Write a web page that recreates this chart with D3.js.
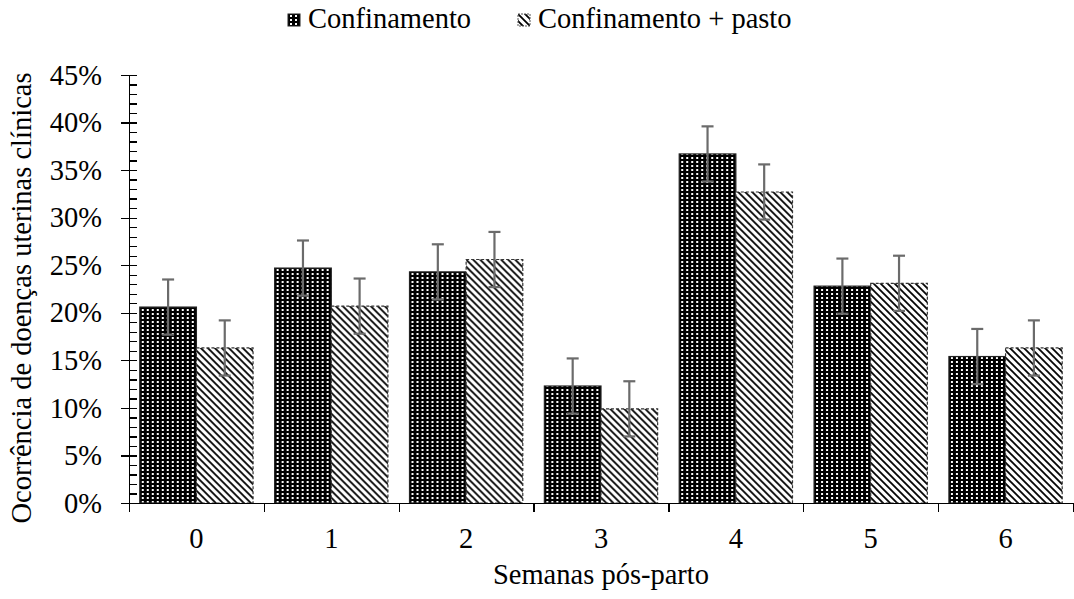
<!DOCTYPE html>
<html>
<head>
<meta charset="utf-8">
<script src="https://d3js.org/d3.v7.min.js"></script>
</head>
<body style="margin:0">
<script>
const weeks = ["0", "1", "2", "3", "4", "5", "6"];
const seriesNames = ["Confinamento", "Confinamento + pasto"];
const confinamento = [0.206, 0.247, 0.243, 0.123, 0.367, 0.228, 0.154];
const pasto = [0.163, 0.207, 0.256, 0.099, 0.327, 0.231, 0.163];
const errConf = [0.029, 0.029, 0.029, 0.029, 0.029, 0.029, 0.029];
const errPasto = [0.029, 0.029, 0.029, 0.029, 0.029, 0.029, 0.029];
const yTicks = [0, 0.05, 0.10, 0.15, 0.20, 0.25, 0.30, 0.35, 0.40, 0.45];

const w = 1074, h = 599;
const plotL = 129, plotR = 1073, plotT = 75, plotB = 503;
const serif = '"Liberation Serif"';
const fs = "28.5px";

const svg = d3.select("body").append("svg")
    .attr("width", w).attr("height", h);

// patterns
const defs = svg.append("defs");
const grid = defs.append("pattern").attr("id", "grid")
    .attr("patternUnits", "userSpaceOnUse").attr("width", 5).attr("height", 4);
grid.append("rect").attr("width", 5).attr("height", 4).attr("fill", "#000");
grid.append("rect").attr("x", 2).attr("y", 1).attr("width", 2).attr("height", 2).attr("fill", "#fff");

const hatch = defs.append("pattern").attr("id", "hatch")
    .attr("patternUnits", "userSpaceOnUse").attr("width", 7).attr("height", 7);
hatch.append("rect").attr("width", 7).attr("height", 7).attr("fill", "#fff");
hatch.append("path").attr("d", "M-2,-2 L9,9 M-2,5 L2,9 M5,-2 L9,2")
    .attr("stroke", "#000").attr("stroke-width", 1.8);

// scales
const x = d3.scaleBand().domain(weeks).range([plotL, plotR])
    .paddingInner(0.16).paddingOuter(0.08);
const xSub = d3.scaleBand().domain(seriesNames).range([0, x.bandwidth()]);
const y = d3.scaleLinear().domain([0, 0.45]).range([plotB, plotT]);

const rows = weeks.map((wk, i) => ({
    week: wk,
    vals: [
        { s: seriesNames[0], v: confinamento[i], e: errConf[i] },
        { s: seriesNames[1], v: pasto[i], e: errPasto[i] }
    ]
}));

const groups = svg.selectAll("g.grp").data(rows).enter().append("g")
    .attr("class", "grp")
    .attr("transform", d => `translate(${x(d.week)},0)`);

groups.selectAll("rect").data(d => d.vals).enter().append("rect")
    .attr("x", d => xSub(d.s))
    .attr("y", d => y(d.v))
    .attr("width", xSub.bandwidth())
    .attr("height", d => y(0) - y(d.v))
    .attr("fill", d => d.s === seriesNames[0] ? "url(#grid)" : "url(#hatch)")
    .attr("stroke", d => d.s === seriesNames[0] ? "#222" : "#333")
    .attr("stroke-width", 1.2)
    .attr("stroke-dasharray", d => d.s === seriesNames[0] ? null : "3,2");

// error bars
const eb = groups.selectAll("g.err").data(d => d.vals).enter().append("g")
    .attr("class", "err")
    .attr("stroke", "#6b6b6b").attr("stroke-width", 2.2);
const cx = d => xSub(d.s) + xSub.bandwidth() / 2;
eb.append("line").attr("x1", cx).attr("x2", cx)
    .attr("y1", d => y(d.v - d.e)).attr("y2", d => y(d.v + d.e));
eb.append("line").attr("x1", d => cx(d) - 6).attr("x2", d => cx(d) + 6)
    .attr("y1", d => y(d.v + d.e)).attr("y2", d => y(d.v + d.e));
eb.append("line").attr("x1", d => cx(d) - 6).attr("x2", d => cx(d) + 6)
    .attr("y1", d => y(d.v - d.e)).attr("y2", d => y(d.v - d.e));

const axisStyle = g => g.selectAll("path, line")
    .attr("stroke", "#000").attr("stroke-width", 1.3).attr("shape-rendering", "crispEdges");
const textStyle = sel => sel
    .attr("font-family", "Liberation Serif")
    .style("font-family", serif).style("font-size", fs).attr("fill", "#000");

// y axis: minor ticks inside, major ticks crossing
svg.append("g")
    .attr("transform", `translate(${plotL},0)`)
    .call(d3.axisRight(y).tickValues(d3.range(0, 46).map(d => d / 100))
        .tickSize(8).tickFormat(""))
    .call(g => g.select(".domain").remove())
    .call(axisStyle);
svg.append("g")
    .attr("transform", `translate(${plotL},0)`)
    .call(d3.axisLeft(y).tickValues(yTicks).tickSize(8).tickSizeOuter(0)
        .tickFormat(d3.format(".0%")))
    .call(axisStyle)
    .call(g => g.selectAll("text").attr("x", -27).call(textStyle));

// x axis
const xb = d3.scaleLinear().domain([0, weeks.length]).range([plotL, plotR]);
svg.append("g")
    .attr("transform", `translate(0,${plotB})`)
    .call(d3.axisBottom(xb).tickValues(d3.range(0, weeks.length + 1))
        .tickSize(9).tickSizeOuter(0).tickFormat(""))
    .call(axisStyle);
svg.append("g")
    .attr("transform", `translate(0,${plotB})`)
    .call(d3.axisBottom(x).tickSize(0).tickPadding(25))
    .call(g => g.select(".domain").remove())
    .call(g => g.selectAll("text").call(textStyle));

// axis titles
svg.append("text")
    .attr("x", 601).attr("y", 584)
    .attr("text-anchor", "middle")
    .call(textStyle)
    .text("Semanas pós-parto");
svg.append("text")
    .attr("transform", "translate(31,298) rotate(-90)")
    .attr("text-anchor", "middle")
    .call(textStyle)
    .text("Ocorrência de doenças uterinas clínicas");

// legend
const legX = [288, 518];
seriesNames.forEach((name, i) => {
    const g = svg.append("g").attr("transform", `translate(${legX[i]},14)`);
    g.append("rect").attr("width", 12).attr("height", 12)
        .attr("fill", i === 0 ? "url(#grid)" : "url(#hatch)")
        .attr("stroke", i === 0 ? "#222" : "#555").attr("stroke-width", 1)
        .attr("stroke-dasharray", i === 0 ? null : "2,1");
    g.append("text").attr("x", 20).attr("y", 14).call(textStyle).text(name);
});
</script>
</body>
</html>
